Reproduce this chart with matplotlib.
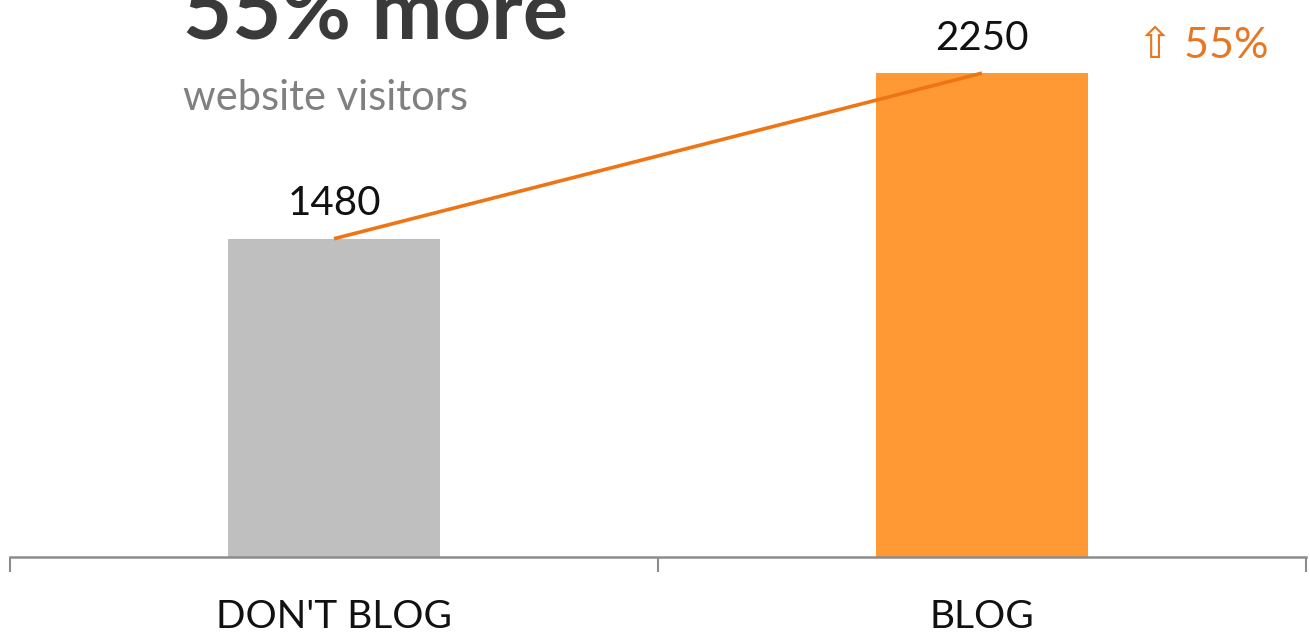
import matplotlib.pyplot as plt

plt.rcParams['font.family'] = ['Lato', 'DejaVu Sans']

# -- DATA
categories = ["DON'T BLOG", "BLOG"]
visitors = [1480, 2250]
bar_colors = ["#BFBFBF", "#FF9933"]
increase_pct = 55

fig = plt.figure(figsize=(13.1, 6.35), dpi=100)
ax = fig.add_axes([10 / 1310, 78 / 635, 1296 / 1310, 557 / 635])

x = range(len(categories))
ax.bar(x, visitors, width=0.326, color=bar_colors, zorder=2)

# line joining the bar tops
ax.plot(x, visitors, color="#EE7414", linewidth=2.6, zorder=3,
        solid_capstyle="butt")

# value labels above each bar
for xi, v in zip(x, visitors):
    ax.annotate(str(v), (xi, v), xytext=(0, 17), textcoords="offset points",
                ha="center", va="baseline", fontsize=29, color="#111111")

ax.annotate("\u21e7 %d%%" % increase_pct, (1, visitors[1]),
            xytext=(159, 11), textcoords="offset points",
            ha="center", va="baseline", fontsize=31, color="#E87722")

ax.set_xlim(-0.5, 1.5)
ax.set_ylim(0, 2590)

for side in ["top", "right", "left"]:
    ax.spines[side].set_visible(False)
ax.spines["bottom"].set_color("#8C8C8C")
ax.spines["bottom"].set_linewidth(1.8)

ax.set_yticks([])
ax.set_xticks([-0.5, 0.5, 1.5])
ax.set_xticklabels([])
ax.tick_params(axis="x", which="major", direction="out", length=11,
               width=1.5, color="#8C8C8C")
ax.set_xticks(list(x), minor=True)
ax.set_xticklabels(categories, minor=True, fontsize=28, color="#111111")
ax.tick_params(axis="x", which="minor", length=0, pad=30)

# headline
fig.text(183 / 1310, 1 - 40 / 635, "%d%% more" % increase_pct, fontsize=61,
         fontweight="bold", color="#3A3A3A", ha="left", va="baseline")
fig.text(183 / 1310, 1 - 110 / 635, "website visitors", fontsize=30,
         color="#808080", ha="left", va="baseline")

fig.savefig("out.png", dpi=100)
